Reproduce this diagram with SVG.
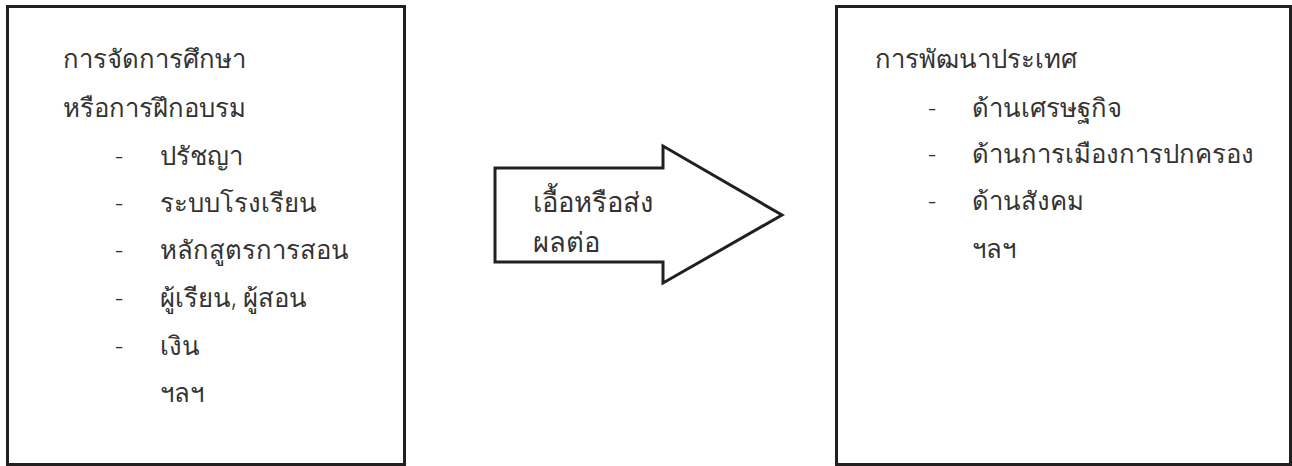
<svg xmlns="http://www.w3.org/2000/svg" width="1292" height="466" viewBox="0 0 1292 466">
<style>
.box{fill:#fff;stroke:#231f20;stroke-width:3}
.t{font-family:"Noto Sans","DejaVu Sans","Liberation Sans",sans-serif;font-size:25.7px;font-weight:300;fill:#333}
.a{font-size:27.4px}
</style>
<rect width="1292" height="466" fill="#fff"/>
<g id="node-education">
<rect class="box" x="7.5" y="6.5" width="397" height="458"/>
<text class="t" x="63" y="68">การจัดการศึกษา</text>
<text class="t" x="63" y="117">หรือการฝึกอบรม</text>
<text class="t" x="115" y="165">-</text><text class="t" x="160" y="165">ปรัชญา</text>
<text class="t" x="115" y="212">-</text><text class="t" x="160" y="212">ระบบโรงเรียน</text>
<text class="t" x="115" y="259">-</text><text class="t" x="160" y="259">หลักสูตรการสอน</text>
<text class="t" x="115" y="307">-</text><text class="t" x="160" y="307">ผู้เรียน, ผู้สอน</text>
<text class="t" x="115" y="355">-</text><text class="t" x="160" y="355">เงิน</text>
<text class="t" x="160" y="402">ฯลฯ</text>
</g>
<g id="connectors">
<g id="arrow">
<polygon class="box" points="495,168 663,168 663,146 782,215 663,283 663,262 495,262"/>
<text class="t a" x="533" y="212">เอื้อหรือส่ง</text>
<text class="t a" x="533" y="252">ผลต่อ</text>
</g>
</g>
<g id="node-development">
<rect class="box" x="836.5" y="6.5" width="454" height="458"/>
<text class="t" x="875" y="68">การพัฒนาประเทศ</text>
<text class="t" x="928" y="117">-</text><text class="t" x="972" y="117">ด้านเศรษฐกิจ</text>
<text class="t" x="928" y="163">-</text><text class="t" x="972" y="163">ด้านการเมืองการปกครอง</text>
<text class="t" x="928" y="210">-</text><text class="t" x="972" y="210">ด้านสังคม</text>
<text class="t" x="972" y="258">ฯลฯ</text>
</g>
</svg>
